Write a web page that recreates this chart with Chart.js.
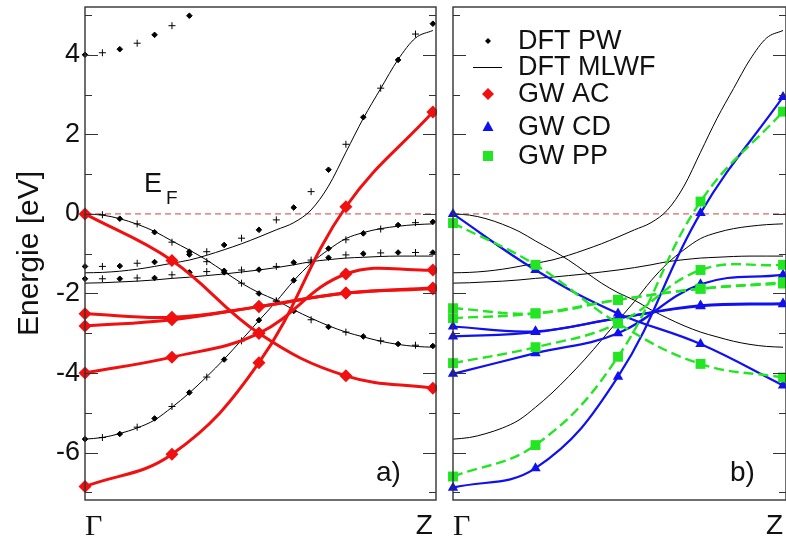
<!DOCTYPE html>
<html>
<head>
<meta charset="utf-8">
<script src="https://cdn.jsdelivr.net/npm/chart.js@4"></script>
<style>
body { margin: 0; background: #fff; }
#wrap { position: relative; width: 786px; height: 542px; overflow: hidden; background: #fff; }
#boxA { position: absolute; left: 0; top: 0; width: 437px; height: 542px; }
#boxB { position: absolute; left: 440px; top: 0; width: 346px; height: 542px; }
</style>
</head>
<body>
<div id="wrap">
  <div id="boxA"><canvas id="chartA"></canvas></div>
  <div id="boxB"><canvas id="chartB"></canvas></div>
</div>
<script>
// k path Gamma -> Z
const kPath = [0, 0.05, 0.1, 0.15, 0.2, 0.25, 0.3, 0.35, 0.4, 0.45, 0.5, 0.55, 0.6, 0.65, 0.7, 0.75, 0.8, 0.85, 0.9, 0.95, 1];
const kTop = [0, 0.05, 0.1, 0.15, 0.2, 0.25, 0.3];
const kGW = [0, 0.25, 0.5, 0.75, 1];
const xTickLabels = ["Γ", "Z"];
const xTickValues = [0, 1];
const yTicks = [-6, -4, -2, 0, 2, 4];

// DFT MLWF bands (thin black lines)
const mlwf1 = [0, -0.03, -0.12, -0.26, -0.44, -0.68, -0.91, -1.16, -1.45, -1.74, -1.98, -2.17, -2.41, -2.62, -2.81, -2.97, -3.09, -3.2, -3.28, -3.33, -3.35];
const mlwf2 = [-1.48, -1.47, -1.44, -1.39, -1.32, -1.24, -1.16, -1.04, -0.9, -0.75, -0.58, -0.4, -0.22, 0.1, 0.7, 1.55, 2.4, 3.15, 3.88, 4.42, 4.61];
const mlwf3 = [-1.74, -1.73, -1.71, -1.69, -1.66, -1.62, -1.59, -1.55, -1.51, -1.46, -1.41, -1.35, -1.28, -1.2, -1.15, -1.11, -1.09, -1.07, -1.06, -1.06, -1.06];
const mlwf4 = [-5.66, -5.62, -5.52, -5.38, -5.18, -4.86, -4.5, -4.09, -3.65, -3.17, -2.68, -2.2, -1.68, -1.24, -0.9, -0.62, -0.47, -0.37, -0.31, -0.27, -0.25];

// DFT PW points
const pwTop = [4.0, 4.05, 4.14, 4.29, 4.5, 4.73, 4.98];
const pw1 = [0, -0.02, -0.12, -0.25, -0.46, -0.71, -0.95, -1.2, -1.47, -1.74, -2.0, -2.19, -2.44, -2.66, -2.84, -2.97, -3.08, -3.19, -3.27, -3.3, -3.32];
const pw2 = [-1.32, -1.32, -1.31, -1.24, -1.21, -1.15, -1.02, -0.95, -0.78, -0.61, -0.4, -0.15, 0.16, 0.56, 1.11, 1.75, 2.43, 3.16, 3.87, 4.52, 4.78];
const pw3 = [-1.63, -1.63, -1.63, -1.61, -1.61, -1.53, -1.47, -1.45, -1.43, -1.41, -1.4, -1.32, -1.22, -1.16, -1.1, -1.03, -1.0, -0.98, -0.97, -0.97, -0.97];
const pw4 = [-5.66, -5.62, -5.53, -5.36, -5.14, -4.84, -4.49, -4.1, -3.66, -3.19, -2.67, -2.19, -1.67, -1.23, -0.87, -0.65, -0.49, -0.38, -0.28, -0.22, -0.2];

// GW AC (panel a)
const ac1 = [0, -1.17, -3.0, -4.07, -4.38];
const ac2 = [-6.85, -6.04, -3.74, 0.18, 2.56];
const ac3 = [-4.0, -3.6, -3.0, -1.51, -1.41];
const ac4 = [-2.51, -2.6, -2.33, -1.99, -1.88];
const ac5 = [-2.82, -2.66, -2.33, -1.99, -1.86];

// GW CD (panel b)
const cd1 = [0, -1.41, -2.5, -3.27, -4.31];
const cd2 = [-6.88, -6.39, -4.09, 0.02, 2.94];
const cd3 = [-4.02, -3.5, -3.0, -1.77, -1.53];
const cd4 = [-2.83, -2.95, -2.62, -2.32, -2.27];
const cd5 = [-3.08, -2.97, -2.62, -2.3, -2.25];

// GW PP (panel b)
const pp1 = [-0.23, -1.28, -2.75, -3.77, -4.11];
const pp2 = [-6.6, -5.81, -3.59, 0.31, 2.57];
const pp3 = [-3.75, -3.35, -2.75, -1.41, -1.28];
const pp4 = [-2.37, -2.5, -2.16, -1.88, -1.75];
const pp5 = [-2.62, -2.5, -2.16, -1.88, -1.72];

const xMax = 1.009, yMin = -7.19, yMax = 5.2;
const RED = '#f01010', BLUE = '#1010f0', GREEN = '#22e622';

function pts(ks, vs) { return vs.map((v, i) => ({ x: ks[i], y: v })); }

function zeroLine() {
  return { data: [{ x: 0, y: 0 }, { x: xMax, y: 0 }], borderColor: '#cc4040', borderWidth: 1,
    borderDash: [6, 4], pointRadius: 0, order: 20 };
}
function mlwfLine(vs) {
  return { data: pts(kPath, vs), borderColor: '#000', borderWidth: 1, pointRadius: 0,
    cubicInterpolationMode: 'monotone', order: 10 };
}
function pwPoints(ks, vs) {
  return { data: pts(ks, vs), showLine: false, borderColor: '#000', backgroundColor: '#000', borderWidth: 1,
    pointStyle: vs.map((v, i) => i % 2 ? 'cross' : 'rectRot'),
    pointRadius: vs.map((v, i) => i % 2 ? 3.5 : 2.8), order: 8 };
}
function gwLine(vs, color, style, r, dash, order) {
  return { data: pts(kGW, vs), borderColor: color, backgroundColor: color, borderWidth: dash ? 2.4 : (style === 'rectRot' ? 3 : 2.2),
    borderDash: dash || [], tension: 0.4, pointStyle: style, pointRadius: r, pointBorderWidth: 0, order: order };
}

const frameTicks = {
  id: 'frameTicks',
  afterDatasetsDraw(chart) {
    const { ctx, chartArea: a, scales: { y } } = chart;
    ctx.save();
    ctx.strokeStyle = '#333';
    ctx.lineWidth = 1.4;
    ctx.strokeRect(a.left, a.top, a.right - a.left, a.bottom - a.top);
    ctx.lineWidth = 1.2;
    for (let v = -7; v <= 5; v++) {
      const py = Math.round(y.getPixelForValue(v)) + 0.5;
      const len = yTicks.includes(v) ? 13 : 7;
      ctx.beginPath();
      ctx.moveTo(a.left, py); ctx.lineTo(a.left + len, py);
      ctx.moveTo(a.right - len, py); ctx.lineTo(a.right, py);
      ctx.stroke();
    }
    ctx.restore();
  }
};

const textA = {
  id: 'textA',
  afterDraw(chart) {
    const ctx = chart.ctx;
    ctx.save();
    ctx.fillStyle = '#111';
    ctx.textBaseline = 'alphabetic';
    ctx.font = '27px "Liberation Sans", Arial, sans-serif';
    ctx.fillText('E', 144, 192);
    ctx.font = '19px "Liberation Sans", Arial, sans-serif';
    ctx.fillText('F', 166, 204);
    ctx.font = '28px "Liberation Sans", Arial, sans-serif';
    ctx.fillText('a)', 376, 481);
    ctx.restore();
  }
};

const textB = {
  id: 'textB',
  afterDraw(chart) {
    const ctx = chart.ctx;
    ctx.save();
    ctx.fillStyle = '#111';
    ctx.font = '28px "Liberation Sans", Arial, sans-serif';
    ctx.textBaseline = 'alphabetic';
    ctx.fillText('b)', 290, 481);
    // legend
    const sx = 48, tx = 78;
    const rows = [
      ['DFT PW', 41], ['DFT MLWF', 67], ['GW AC', 94], ['GW CD', 127], ['GW PP', 156]
    ];
    ctx.font = '27px "Liberation Sans", Arial, sans-serif';
    ctx.textBaseline = 'middle';
    rows.forEach(r => ctx.fillText(r[0], tx, r[1] + 1));
    // DFT PW symbol
    ctx.fillStyle = '#000';
    ctx.beginPath();
    ctx.moveTo(sx, 41 - 3); ctx.lineTo(sx + 3, 41); ctx.lineTo(sx, 41 + 3); ctx.lineTo(sx - 3, 41); ctx.closePath(); ctx.fill();
    // MLWF line
    ctx.strokeStyle = '#000'; ctx.lineWidth = 1;
    ctx.beginPath(); ctx.moveTo(33, 67.5); ctx.lineTo(62, 67.5); ctx.stroke();
    // AC diamond
    ctx.fillStyle = RED;
    ctx.beginPath();
    ctx.moveTo(sx, 94 - 6); ctx.lineTo(sx + 6, 94); ctx.lineTo(sx, 94 + 6); ctx.lineTo(sx - 6, 94); ctx.closePath(); ctx.fill();
    // CD triangle
    ctx.fillStyle = BLUE;
    ctx.beginPath();
    ctx.moveTo(sx, 127 - 6); ctx.lineTo(sx + 5.5, 127 + 4); ctx.lineTo(sx - 5.5, 127 + 4); ctx.closePath(); ctx.fill();
    // PP square
    ctx.fillStyle = GREEN;
    ctx.fillRect(sx - 5, 156 - 5, 10, 10);
    ctx.restore();
  }
};

function xScale() {
  return {
    type: 'linear', min: 0, max: xMax,
    grid: { display: false, drawTicks: false }, border: { display: false },
    afterBuildTicks: s => { s.ticks = xTickValues.map(v => ({ value: v })); },
    afterFit: s => { s.height = 42; s.paddingLeft = 0; s.paddingRight = 0; },
    ticks: {
      autoSkip: false, maxRotation: 0, align: 'inner', padding: 9, color: '#111',
      callback: (v, i) => xTickLabels[i],
      font: c => c.index === 0 ? { family: '"Liberation Serif", serif', size: 30 } : { family: '"Liberation Sans", sans-serif', size: 28 }
    }
  };
}

new Chart(document.getElementById('chartA'), {
  type: 'scatter',
  data: {
    datasets: [
      zeroLine(),
      mlwfLine(mlwf1), mlwfLine(mlwf2), mlwfLine(mlwf3), mlwfLine(mlwf4),
      pwPoints(kTop, pwTop), pwPoints(kPath, pw1), pwPoints(kPath, pw2), pwPoints(kPath, pw3), pwPoints(kPath, pw4),
      gwLine(ac1, RED, 'rectRot', 6.5, null, 1), gwLine(ac2, RED, 'rectRot', 6.5, null, 1),
      gwLine(ac3, RED, 'rectRot', 6.5, null, 1), gwLine(ac4, RED, 'rectRot', 6.5, null, 1),
      gwLine(ac5, RED, 'rectRot', 6.5, null, 1)
    ].map(d => Object.assign(d, { showLine: d.showLine !== false, clip: false }))
  },
  options: {
    responsive: true, maintainAspectRatio: false, animation: false, devicePixelRatio: 1,
    layout: { autoPadding: false, padding: { top: 7, right: 1, left: 0, bottom: 0 } },
    plugins: { legend: { display: false }, tooltip: { enabled: false } },
    scales: {
      x: xScale(),
      y: {
        type: 'linear', min: yMin, max: yMax,
        grid: { display: false, drawTicks: false }, border: { display: false },
        afterBuildTicks: s => { s.ticks = yTicks.map(v => ({ value: v })); },
        afterFit: s => { s.width = 85; s.paddingTop = 0; s.paddingBottom = 0; },
        ticks: { padding: 5, color: '#111', font: { family: '"Liberation Sans", sans-serif', size: 27 } },
        title: { display: true, text: 'Energie [eV]', color: '#111', padding: { top: 12, bottom: 0 },
          font: { family: '"Liberation Sans", sans-serif', size: 30 } }
      }
    }
  },
  plugins: [frameTicks, textA]
});

new Chart(document.getElementById('chartB'), {
  type: 'scatter',
  data: {
    datasets: [
      zeroLine(),
      mlwfLine(mlwf1), mlwfLine(mlwf2), mlwfLine(mlwf3), mlwfLine(mlwf4),
      gwLine(cd1, BLUE, 'triangle', 6, null, 3), gwLine(cd2, BLUE, 'triangle', 6, null, 3),
      gwLine(cd3, BLUE, 'triangle', 6, null, 3), gwLine(cd4, BLUE, 'triangle', 6, null, 3),
      gwLine(cd5, BLUE, 'triangle', 6, null, 3),
      gwLine(pp1, GREEN, 'rect', 7, [10, 5], 2), gwLine(pp2, GREEN, 'rect', 7, [10, 5], 2),
      gwLine(pp3, GREEN, 'rect', 7, [10, 5], 2), gwLine(pp4, GREEN, 'rect', 7, [10, 5], 2),
      gwLine(pp5, GREEN, 'rect', 7, [10, 5], 2)
    ].map(d => Object.assign(d, { showLine: true, clip: false }))
  },
  options: {
    responsive: true, maintainAspectRatio: false, animation: false, devicePixelRatio: 1,
    layout: { autoPadding: false, padding: { top: 7, right: 0, left: 13, bottom: 0 } },
    plugins: { legend: { display: false }, tooltip: { enabled: false } },
    scales: {
      x: xScale(),
      y: { type: 'linear', display: false, min: yMin, max: yMax }
    }
  },
  plugins: [frameTicks, textB]
});
</script>
</body>
</html>
